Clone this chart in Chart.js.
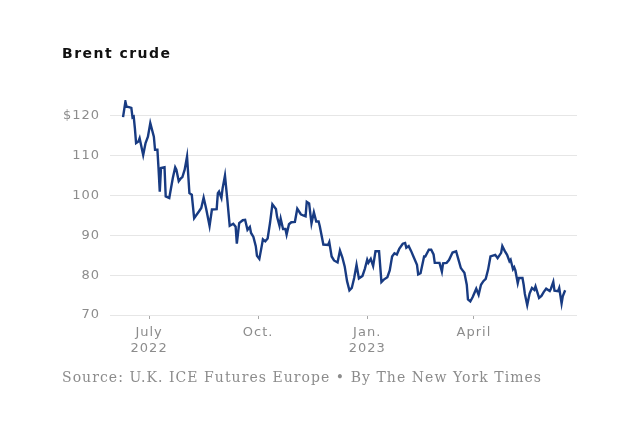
<!DOCTYPE html>
<html>
<head>
<meta charset="utf-8">
<script src="https://cdn.jsdelivr.net/npm/chart.js@4/dist/chart.umd.min.js"></script>
<style>
  html, body { margin: 0; padding: 0; background: #fff; }
  #brentChart { display: block; }
</style>
</head>
<body>
<canvas id="brentChart" width="640" height="426"></canvas>
<script>
// days counted from July 1, 2022
const days = [
  -22, -20, -19, -17, -15, -14, -13, -12, -11, -9, -8, -5, -3, -1, 1, 4, 5, 7, 8, 9,
  10, 13, 14, 17, 20, 22, 23, 25, 27, 28, 30, 32, 34, 36, 38, 42, 44, 46, 48, 51,
  53, 57, 58, 59, 61, 62, 64, 66, 68, 71, 73, 74, 76, 79, 81, 83, 85, 86, 88, 90,
  91, 93, 95, 96, 98, 100, 102, 104, 107, 108, 110, 111, 113, 115, 116, 118, 120, 123, 125, 128,
  130, 132, 133, 135, 137, 139, 141, 143, 144, 147, 151, 152, 154, 156, 159, 161, 163, 165, 167, 169,
  171, 173, 175, 177, 180, 182, 184, 185, 187, 189, 191, 194, 196, 198, 201, 203, 205, 207, 209, 211,
  214, 216, 217, 219, 221, 223, 226, 227, 229, 232, 233, 236, 238, 240, 241, 245, 247, 248, 251, 253,
  256, 259, 261, 263, 264, 266, 268, 269, 271, 273, 276, 278, 280, 282, 284, 286, 288, 292, 294, 297,
  298, 300, 302, 304, 305, 307, 308, 309, 311, 312, 315, 316, 317, 319, 321, 323, 325, 326, 329, 331,
  333, 335, 338, 339, 341, 342, 345, 346, 348, 349, 351
];
const prices = [
  119.7, 123.6, 122.3, 122.2, 122, 119.6, 119.8, 116.9, 113.2, 113.6, 114.4, 110.2, 113.2, 114.8, 118.2, 114.8, 111.5, 111.5, 106.5, 101,
  106.9, 107.1, 99.8, 99.4, 104.4, 107.1, 106.5, 103.6, 104.4, 104.6, 106.5, 109.8, 100.6, 100.2, 94.3, 96, 96.9, 99.5, 96.9, 92.4,
  96.5, 96.6, 100.6, 101, 99.4, 101.8, 105, 98.9, 92.4, 92.9, 92.2, 87.9, 93.1, 93.8, 93.9, 91.4, 92.1, 90.6, 89.6, 87.3,
  84.9, 84.1, 87.3, 89, 88.5, 89.2, 93.1, 97.8, 96.6, 94.6, 92.4, 94.2, 91.6, 91.6, 90.2, 92.8, 93.3, 93.4, 96.7, 95.3,
  95, 94.8, 98.4, 98, 93, 95.8, 93.5, 93.5, 92.3, 87.7, 87.6, 88.3, 84.7, 83.7, 83.2, 86.2, 84.5, 82.2, 78.5, 76.2,
  76.8, 79.3, 82.6, 79.2, 79.8, 81.6, 83.9, 83.1, 84.1, 82.3, 86, 86, 78.3, 78.9, 79.5, 81.2, 84.7, 85.5, 85.2, 86.6,
  87.9, 88.1, 86.9, 87.3, 86.1, 84.7, 82.6, 80.2, 80.5, 84.7, 84.7, 86.4, 86.4, 85.2, 83.1, 83.1, 80.9, 83, 83.1, 83.8,
  85.7, 86, 83.9, 81.8, 81.4, 80.6, 77.6, 73.9, 73.4, 74.5, 76.6, 75.1, 77.6, 78.5, 79.1, 81.4, 84.7, 85.1, 84.3, 85.6,
  87.3, 86.1, 85.1, 83.5, 83.9, 81.5, 82, 81.2, 78, 79.3, 79.3, 77.6, 75.3, 72.5, 75.4, 76.8, 76.3, 77.2, 74.3, 74.8,
  75.8, 76.6, 76, 76.6, 78.3, 76.1, 76, 76.8, 72.9, 74.7, 76.2
];

const xTickDays = [0, 92, 184, 274];
const xTickLabels = [['July', '2022'], ['Oct.'], ['Jan.', '2023'], ['April']];
const yTickValues = [70, 80, 90, 100, 110, 120];

const titleText = 'Brent crude';
const sourceText = 'Source: U.K. ICE Futures Europe \u2022 By The New York Times';

// draw a line of text stretched out to a given width with letter spacing
function fitText(ctx, text, x, y, width) {
  ctx.letterSpacing = '0px';
  const w = ctx.measureText(text).width;
  const gap = (width - w) / (text.length - 1);
  ctx.letterSpacing = gap + 'px';
  ctx.fillText(text, x, y);
  ctx.letterSpacing = '0px';
}

const textPlugin = {
  id: 'nytText',
  beforeDraw(chart) {
    chart.ctx.letterSpacing = '1px';
  },
  afterDraw(chart) {
    const ctx = chart.ctx;
    ctx.save();
    ctx.textAlign = 'left';
    ctx.textBaseline = 'alphabetic';
    ctx.fillStyle = '#111';
    ctx.font = 'bold 14px "DejaVu Sans"';
    fitText(ctx, titleText, 62, 58, 108);
    ctx.fillStyle = '#8c8c8c';
    ctx.font = '14px "DejaVu Serif"';
    fitText(ctx, sourceText, 62, 382, 479);
    ctx.restore();
  }
};

const ctx = document.getElementById('brentChart').getContext('2d');

const brentChart = new Chart(ctx, {
  type: 'line',
  data: {
    datasets: [{
      data: days.map((d, i) => ({ x: d, y: prices[i] })),
      borderColor: '#183b82',
      borderWidth: 2.4,
      pointRadius: 0,
      tension: 0,
      fill: false
    }]
  },
  options: {
    responsive: false,
    animation: false,
    devicePixelRatio: 1,
    layout: {
      padding: { top: 100, right: 63, bottom: 61, left: 0 }
    },
    plugins: {
      legend: { display: false },
      tooltip: { enabled: false }
    },
    scales: {
      x: {
        type: 'linear',
        min: -33,
        max: 361,
        afterBuildTicks: (scale) => {
          scale.ticks = xTickDays.map(v => ({ value: v }));
        },
        afterFit: (scale) => { scale.height = 50; },
        ticks: {
          autoSkip: false,
          maxRotation: 0,
          padding: 6,
          color: '#8c8c8c',
          font: { family: '"DejaVu Sans"', size: 13, lineHeight: 1.2 },
          callback: (value) => xTickLabels[xTickDays.indexOf(value)]
        },
        grid: {
          drawOnChartArea: false,
          drawTicks: true,
          tickLength: 4,
          color: '#a8a8a8'
        },
        border: { display: false }
      },
      y: {
        min: 70,
        max: 124,
        afterBuildTicks: (scale) => {
          scale.ticks = yTickValues.map(v => ({ value: v }));
        },
        afterFit: (scale) => { scale.width = 110; },
        ticks: {
          padding: 10,
          color: '#8c8c8c',
          font: { family: '"DejaVu Sans"', size: 13 },
          callback: (value) => value === 120 ? '$' + value : String(value)
        },
        grid: {
          drawTicks: false,
          color: '#e6e6e6',
          lineWidth: 1
        },
        border: { display: false }
      }
    }
  },
  plugins: [textPlugin]
});
</script>
</body>
</html>
